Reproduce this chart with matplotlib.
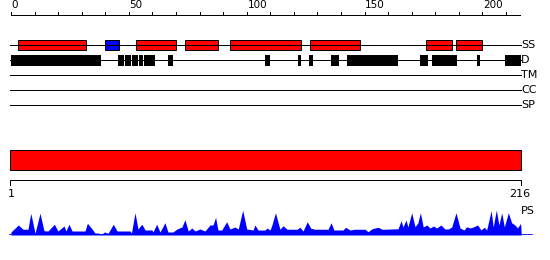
import numpy as np
import matplotlib
matplotlib.use("Agg")
import matplotlib.pyplot as plt
from matplotlib.patches import Rectangle

# protein feature summary, sequence length 216
seq_len = 216

# secondary structure (start, end) in residues
ss_helix = [(3, 32), (53, 70), (74, 88), (93, 123), (127, 148), (176, 187), (189, 200)]
ss_strand = [(40, 46)]

# disordered regions
disorder = [(0, 38), (45.5, 48), (48.4, 50.9), (51.2, 54), (54.2, 56.2), (56.4, 61.1),
            (66.5, 68.7), (107.8, 109.9), (121.6, 123), (126.3, 128), (135.8, 139.2),
            (142.6, 164.2), (173.5, 176.9), (178.6, 189.2), (197.7, 198.9), (209.6, 216.4)]

track_names = ["SS", "D", "TM", "CC", "SP"]

# PS profile (residue, score)
ps_pos = [0, 3.1, 5.1, 7.2, 8.4, 10.2, 12.3, 14.0, 15.7, 18.4, 19.9, 22.5, 23.3, 24.6, 25.9,
          31.4, 32.4, 34.4, 35.6, 36.9, 38.5, 39.6, 41.2, 43.4, 45.0, 50.5, 51.1, 52.6, 53.9,
          55.5, 56.9, 59.8, 60.2, 61.8, 63.2, 65.3, 66.6, 68.7, 70.4, 72.5, 73.8, 75.2, 76.7,
          78.1, 80.2, 82.3, 84.4, 85.7, 86.8, 87.8, 89.4, 91.5, 92.9, 95.0, 96.4, 98.3, 100.0,
          102.7, 103.5, 104.8, 107.8, 108.6, 109.9, 110.7, 112.2, 114.1, 115.4, 117.1, 121.3,
          122.6, 123.9, 125.7, 127.2, 129.0, 134.5, 135.8, 137.0, 140.9, 142.0, 143.8, 145.9,
          150.2, 151.5, 153.2, 155.7, 157.4, 158.7, 164.2, 165.5, 166.3, 167.6, 168.4, 170.0,
          171.4, 172.6, 173.7, 174.9, 176.4, 177.8, 179.2, 180.6, 182.4, 184.1, 185.5, 187.0,
          188.8, 190.5, 192.2, 193.3, 194.7, 196.1, 198.0, 199.4, 200.8, 201.8, 203.7, 204.6,
          205.9, 207.0, 208.2, 209.3, 211.0, 212.4, 213.8, 214.9, 216.2, 216.5]
ps_val = [0.12, 0.40, 0.23, 0.23, 0.87, 0.07, 0.87, 0.17, 0.16, 0.43, 0.16, 0.36, 0.16, 0.43,
          0.16, 0.16, 0.47, 0.24, 0.08, 0.08, 0.03, 0.12, 0.07, 0.43, 0.16, 0.16, 0.08, 0.89,
          0.24, 0.43, 0.20, 0.20, 0.12, 0.43, 0.12, 0.49, 0.12, 0.12, 0.24, 0.32, 0.61, 0.16,
          0.28, 0.16, 0.24, 0.16, 0.40, 0.40, 0.71, 0.20, 0.20, 0.53, 0.24, 0.32, 0.24, 0.99,
          0.24, 0.20, 0.40, 0.20, 0.20, 0.28, 0.20, 0.40, 0.89, 0.23, 0.37, 0.23, 0.23, 0.31,
          0.16, 0.53, 0.27, 0.23, 0.23, 0.49, 0.20, 0.20, 0.31, 0.20, 0.23, 0.23, 0.13, 0.25,
          0.31, 0.23, 0.23, 0.25, 0.57, 0.32, 0.60, 0.32, 0.89, 0.33, 0.48, 0.89, 0.32, 0.40,
          0.28, 0.36, 0.28, 0.40, 0.24, 0.24, 0.32, 0.89, 0.28, 0.20, 0.33, 0.28, 0.32, 0.40,
          0.20, 0.31, 0.20, 0.97, 0.32, 1.00, 0.40, 0.89, 0.32, 0.89, 0.49, 0.40, 0.28, 0.47,
          0.0]

# pixel -> residue scale of the ruler
px_per_res = 2.357
x_left = -11 / px_per_res
x_right = 539 / px_per_res

fig = plt.figure(figsize=(5.5, 2.6), dpi=100)
ax = fig.add_axes([0, 0, 1, 1])
ax.set_xlim(x_left, x_right)
ax.set_ylim(260, 0)
ax.axis("off")

lw = 0.72
fs = 7.5

# top ruler
ax.plot([0, seq_len], [14.7, 14.7], color="black", lw=lw)
for t in range(0, seq_len, 10):
    ax.plot([t, t], [14.7, 11.5], color="black", lw=lw)
    if t % 50 == 0:
        ax.text(t + 0.3, 10.5, str(t), fontsize=fs, ha="left", va="bottom")

# feature tracks
track_y = [44.5, 60, 75, 90, 105.3]
for name, y in zip(track_names, track_y):
    ax.plot([-0.4, seq_len + 0.4], [y, y], color="black", lw=lw)
    ax.text(seq_len + 0.5, y, name, fontsize=8, ha="left", va="center")

for s, e in ss_helix:
    ax.add_patch(Rectangle((s, 39.8), e - s, 10.2, facecolor="#ff0000",
                           edgecolor="black", lw=lw))
for s, e in ss_strand:
    ax.add_patch(Rectangle((s, 39.8), e - s, 10.2, facecolor="#0000ff",
                           edgecolor="black", lw=lw))
for s, e in disorder:
    ax.add_patch(Rectangle((s, 55), e - s, 10.7, facecolor="black",
                           edgecolor="none"))

# full length bar
ax.add_patch(Rectangle((-0.4, 150), seq_len + 0.8, 20.3, facecolor="#ff0000",
                       edgecolor="black", lw=lw))

# bottom ruler
ax.plot([-0.4, -0.4, seq_len + 0.4, seq_len + 0.4], [185, 180.3, 180.3, 185],
        color="black", lw=lw)
ax.text(0, 189, "1", fontsize=8, ha="center", va="top")
ax.text(seq_len, 189, "216", fontsize=8, ha="center", va="top")
ax.text(seq_len + 0.5, 211, "PS", fontsize=8, ha="left", va="center")

# PS profile
pax = fig.add_axes([0, 25 / 260, 1, 30 / 260])
pax.set_xlim(x_left, x_right)
pax.set_ylim(0, 1.2)
pax.axis("off")
pax.fill_between(ps_pos, 0, ps_val, color="#0000ff", lw=0)
pax.plot([-0.4, 221], [0, 0], color="#0000ff", lw=1.2)

fig.savefig("out.png", dpi=100)
